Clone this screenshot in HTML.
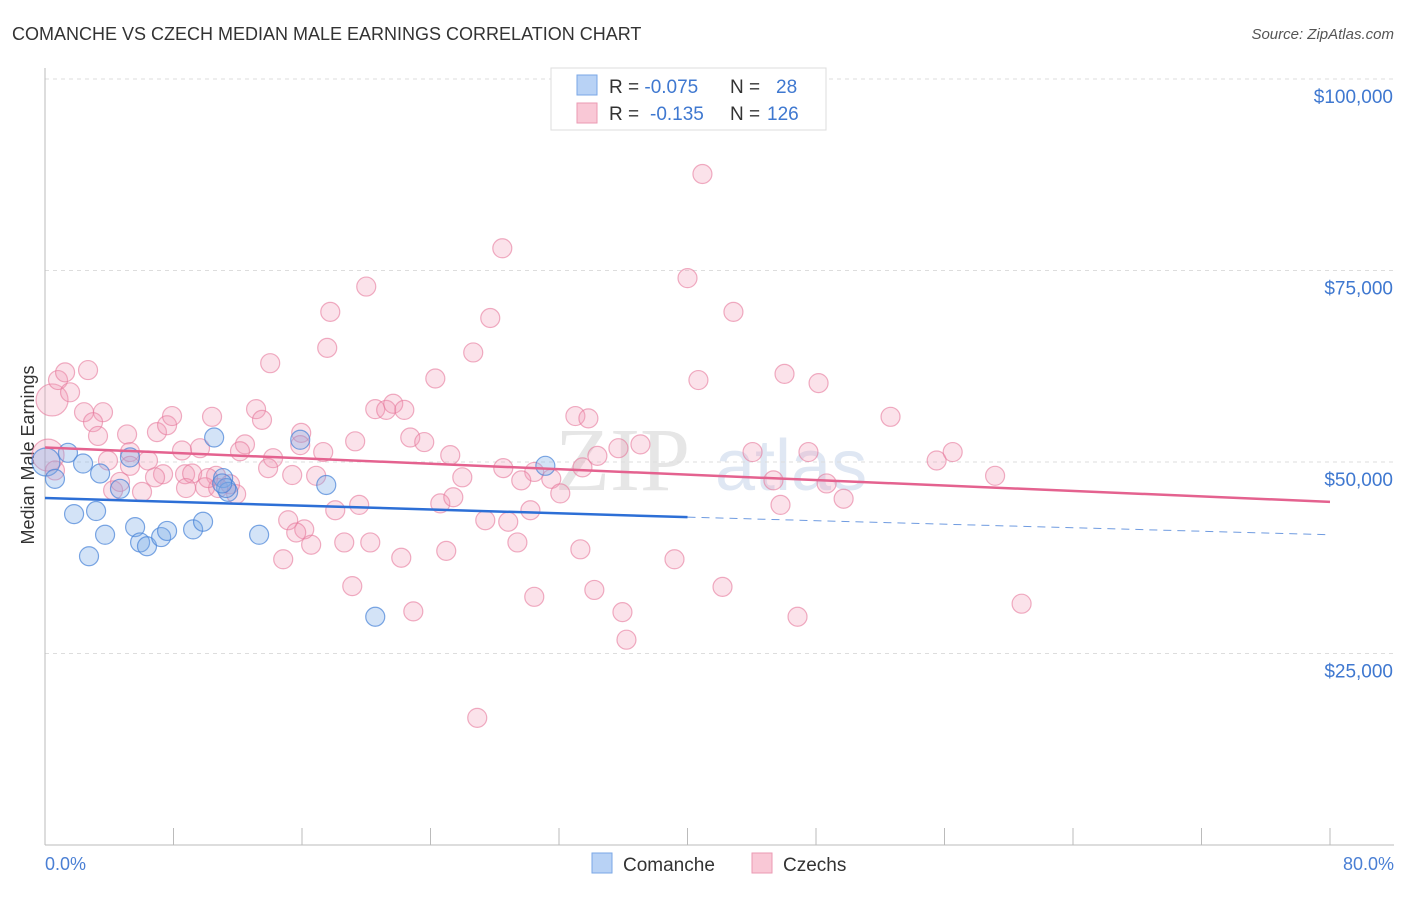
<!DOCTYPE html>
<html><head><meta charset="utf-8"><style>
body{margin:0;background:#fff;font-family:"Liberation Sans",sans-serif}
</style></head><body>
<svg id="chart" width="1406" height="892" xmlns="http://www.w3.org/2000/svg" font-family="Liberation Sans, sans-serif">
<text x="12" y="40" font-size="18" fill="#333">COMANCHE VS CZECH MEDIAN MALE EARNINGS CORRELATION CHART</text>
<text x="1394" y="39" font-size="15" fill="#555" text-anchor="end" font-style="italic">Source: ZipAtlas.com</text>
<text x="555" y="490" font-size="90" fill="#e6e6e6" font-family="Liberation Serif, serif">ZIP</text>
<text x="715" y="490" font-size="72" fill="#dfe7f3">atlas</text>
<g id="grid"></g>
<line x1="45" y1="68" x2="45" y2="845" stroke="#bbb"/>
<line x1="45" y1="845" x2="1394" y2="845" stroke="#bbb"/>
<text transform="translate(34,455) rotate(-90)" font-size="18" fill="#333" text-anchor="middle">Median Male Earnings</text>
<text x="45" y="870" font-size="18" fill="#4a7fd4">0.0%</text>
<text x="1394" y="870" font-size="18" fill="#4a7fd4" text-anchor="end">80.0%</text>
<g id="marks"></g>
<g>
<rect x="551" y="68" width="275" height="62" fill="#fff" stroke="#ddd"/>
<rect x="577" y="75" width="20" height="20" fill="#b8d2f5" stroke="#7aa7e6"/>
<rect x="577" y="103" width="20" height="20" fill="#f9c8d6" stroke="#eb9ab3"/>
<text x="609" y="93" font-size="19" fill="#333">R = <tspan fill="#3f78d0">-0.075</tspan><tspan x="730">N = </tspan><tspan x="776" fill="#3f78d0">28</tspan></text>
<text x="609" y="120" font-size="19" fill="#333">R = <tspan x="650" fill="#3f78d0">-0.135</tspan><tspan x="730">N = </tspan><tspan x="767" fill="#3f78d0">126</tspan></text>
</g>
<g>
<rect x="592" y="853" width="20" height="20" fill="#b8d2f5" stroke="#7aa7e6"/>
<text x="623" y="871" font-size="19" fill="#333">Comanche</text>
<rect x="752" y="853" width="20" height="20" fill="#f9c8d6" stroke="#eb9ab3"/>
<text x="783" y="871" font-size="19" fill="#333">Czechs</text>
</g>
</svg>
<script>
const yTicks=[25000,50000,75000,100000];
const yTickLabels=["$25,000","$50,000","$75,000","$100,000"];
const xTicks=[0,8,16,24,32,40,48,56,64,72,80];
const pinkX=[0.44,0.81,1.25,2.68,1.56,0.19,0.62,2.43,3.61,2.99,3.30,5.11,6.97,7.60,7.91,10.40,13.14,13.51,12.45,9.65,8.53,5.29,3.92,6.41,5.29,7.35,8.72,9.16,10.65,11.52,9.97,11.90,6.04,4.24,6.85,12.14,14.20,13.89,15.39,15.95,15.89,17.32,16.88,19.31,20.56,21.24,21.68,22.37,22.74,23.61,24.30,25.23,25.98,26.66,27.72,28.47,20.00,17.76,17.57,14.02,24.61,25.42,27.41,28.84,29.41,30.46,31.52,32.08,30.22,28.53,29.65,33.02,33.83,33.46,34.39,35.70,37.07,33.33,34.20,35.95,36.20,30.46,26.91,24.98,22.93,22.18,19.13,20.25,18.63,18.07,19.56,16.57,16.14,15.14,15.64,14.83,40.93,40.00,42.86,40.68,46.04,48.16,52.64,47.53,44.05,45.35,48.66,49.72,45.79,39.19,42.18,46.85,60.80,55.51,56.51,59.15,10.78,8.78,10.15,4.67];
const pinkY=[58100,60700,61700,62000,59100,50900,48900,56500,56500,55200,53400,53600,53900,54800,56000,55900,56900,55500,52300,51800,51500,51300,50200,50200,49500,48400,48400,48500,48200,47100,46700,45800,46100,46300,48000,51400,50500,49200,48300,53800,52200,51300,48200,52700,56900,56800,57600,56800,53200,52600,60900,50900,48000,64300,68800,77900,72900,69600,64900,62900,44600,45400,42400,42200,39500,48700,47800,45900,43700,49200,47600,56000,55700,49300,50800,51800,52300,38600,33300,30400,26800,32400,16600,38400,30500,37500,33800,39500,39500,43700,44400,39200,41200,42400,40800,37300,87600,74000,69600,60700,61500,60300,55900,51300,51300,47600,47200,45200,44400,37300,33700,29800,31500,50200,51300,48200,46600,46600,47900,47400];
const pinkBig=[0,5];
const blueX=[0.06,0.62,1.43,2.37,3.43,1.81,3.18,2.74,4.67,3.74,5.61,5.29,5.92,6.35,7.23,7.60,9.22,9.84,10.53,11.09,11.40,13.33,15.89,17.51,20.56,31.15,11.28,11.03];
const blueY=[50000,47800,51200,49800,48500,43200,43600,37700,46500,40500,41500,50600,39500,39000,40200,41000,41200,42200,53200,47900,46100,40500,52900,47000,29800,49500,46600,47200];
const blueTrend=[45300,42800,40500];
const pinkTrend=[51900,44800];
const NS="http://www.w3.org/2000/svg";
const sx=v=>45+v/80*1285;
const sy=v=>845-v/25000*191.5;
const grid=document.getElementById('grid'),marks=document.getElementById('marks');
function mk(tag,at,parent){const e=document.createElementNS(NS,tag);for(const k in at)e.setAttribute(k,at[k]);parent.appendChild(e);return e;}
yTicks.forEach((t,i)=>{
 const l=mk('line',{x1:45,x2:1394,y1:sy(t),y2:sy(t),stroke:'#ddd','stroke-dasharray':'4,4'},grid);
 
 
 const tx=mk('text',{x:1393,y:sy(t)+24,'font-size':19,fill:'#3f78d0','text-anchor':'end'},grid);
 tx.textContent=yTickLabels[i];
 
 
});
mk('line',{x1:45,x2:1394,y1:79,y2:79,stroke:'#ddd','stroke-dasharray':'4,4'},grid);
xTicks.forEach(t=>{
 const l=mk('line',{x1:sx(t),x2:sx(t),y1:828,y2:845,stroke:'#bbb'},grid);
 
 
});
pinkX.forEach((x,i)=>{
 const c=mk('circle',{cx:sx(x),cy:sy(pinkY[i]),r:pinkBig.includes(i)?16:9.5,fill:'rgba(242,150,180,0.28)',stroke:'rgba(230,120,155,0.6)','stroke-width':1.2},marks);
 
 
});
blueX.forEach((x,i)=>{
 const c=mk('circle',{cx:sx(x),cy:sy(blueY[i]),r:i===0?14:9.5,fill:'rgba(120,170,230,0.33)',stroke:'rgba(70,130,215,0.7)','stroke-width':1.2},marks);
 
 
});
const bt=mk('line',{x1:sx(0),y1:sy(blueTrend[0]),x2:sx(40),y2:sy(blueTrend[1]),stroke:'#2d6fd6','stroke-width':2.5},marks);


const bd=mk('line',{x1:sx(40),y1:sy(blueTrend[1]),x2:sx(80),y2:sy(blueTrend[2]),stroke:'#6f9be0','stroke-width':1,'stroke-dasharray':'8,6'},marks);


const pt=mk('line',{x1:sx(0),y1:sy(pinkTrend[0]),x2:sx(80),y2:sy(pinkTrend[1]),stroke:'#e4628f','stroke-width':2.5},marks);


</script>
</body></html>
